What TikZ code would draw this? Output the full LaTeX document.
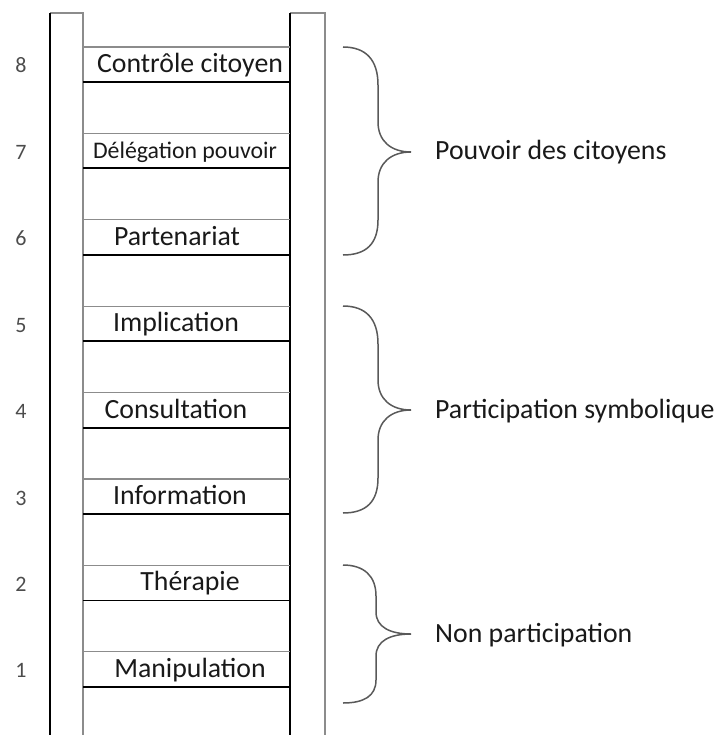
\documentclass[tikz,border=0pt]{standalone}
\usepackage{fontspec}
\setmainfont{Carlito}
\newcommand{\lblfont}{\fontsize{27.8}{32}\selectfont}
\newcommand{\smallfont}{\fontsize{23.8}{28}\selectfont}
\newcommand{\numfont}{\fontsize{22}{26}\selectfont}

\begin{document}
\begin{tikzpicture}[x=1pt, y=-1pt]
  \tikzset{
    railedge/.style={black, line width=1.8pt},
    railback/.style={black!45, line width=1.1pt},
    rungtop/.style={black!45, line width=1.2pt},
    rungbot/.style={black, line width=1.8pt},
    brace/.style={black!65, line width=1.5pt},
    rungtext/.style={anchor=base, inner sep=0pt, text=black!90, font=\lblfont},
    rungnum/.style={anchor=base, inner sep=0pt, text=black!70, font=\numfont},
    grouptext/.style={anchor=base west, inner sep=0pt, text=black!90, font=\lblfont}
  }
  \useasboundingbox (0,0) rectangle (719,735);
  % montants de l'échelle
  \draw[railback] (50,13) -- (83,13) -- (83,735);
  \draw[railback] (290,13) -- (325,13) -- (325,735);
  \draw[railedge] (50,735) -- (50,13);
  \draw[railedge] (290,735) -- (290,13);
  % barreaux (haut gris, bas noir)
  \foreach \i in {1,...,8} {
    \pgfmathsetmacro{\yt}{47+(8-\i)*86.4}
    \coordinate (T\i) at (83,\yt);
    \coordinate (B\i) at (83,\yt+35);
    \draw[rungtop] (T\i) -- ++(207,0);
    \draw[rungbot] (B\i) -- ++(207,0);
    \node[rungnum] (n\i) at (21,\yt+26) {\i};
  }
  % textes des barreaux
  \foreach \i/\cx/\txt in {8/190/Contrôle citoyen, 6/177/Partenariat,
      5/176/Implication, 4/176/Consultation, 3/180/Information,
      2/190/Thérapie, 1/190/Manipulation} {
    \pgfmathsetmacro{\yt}{47+(8-\i)*86.4}
    \node[rungtext] (r\i) at (\cx,\yt+25.5) {\txt};
  }
  \node[rungtext, font=\smallfont] (r7) at (185,133.4+25) {Délégation pouvoir};
  % accolades des groupes
  \draw[brace] (343,47) .. controls (366,47) and (378,60) .. (378,85)
    -- (378,122) .. controls (378,141) and (391,152) .. (411,152)
    .. controls (391,152) and (378,163) .. (378,182)
    -- (378,220) .. controls (378,244) and (366,255) .. (343,255);
  \draw[brace] (343,306) .. controls (366,306) and (378,319) .. (378,344)
    -- (378,380) .. controls (378,399) and (391,410) .. (411,410)
    .. controls (391,410) and (378,421) .. (378,440)
    -- (378,478) .. controls (378,502) and (366,513) .. (343,513);
  \draw[brace] (343,565) .. controls (364,565) and (376,576) .. (376,596)
    -- (376,612) .. controls (376,627) and (390,634) .. (411,634)
    .. controls (390,634) and (376,641) .. (376,656)
    -- (376,680) .. controls (376,696) and (364,703) .. (343,703);
  \node[grouptext] (g3) at (435,160) {Pouvoir des citoyens};
  \node[grouptext] (g2) at (435,418) {Participation symbolique};
  \node[grouptext] (g1) at (435,642) {Non participation};
\end{tikzpicture}
\end{document}
